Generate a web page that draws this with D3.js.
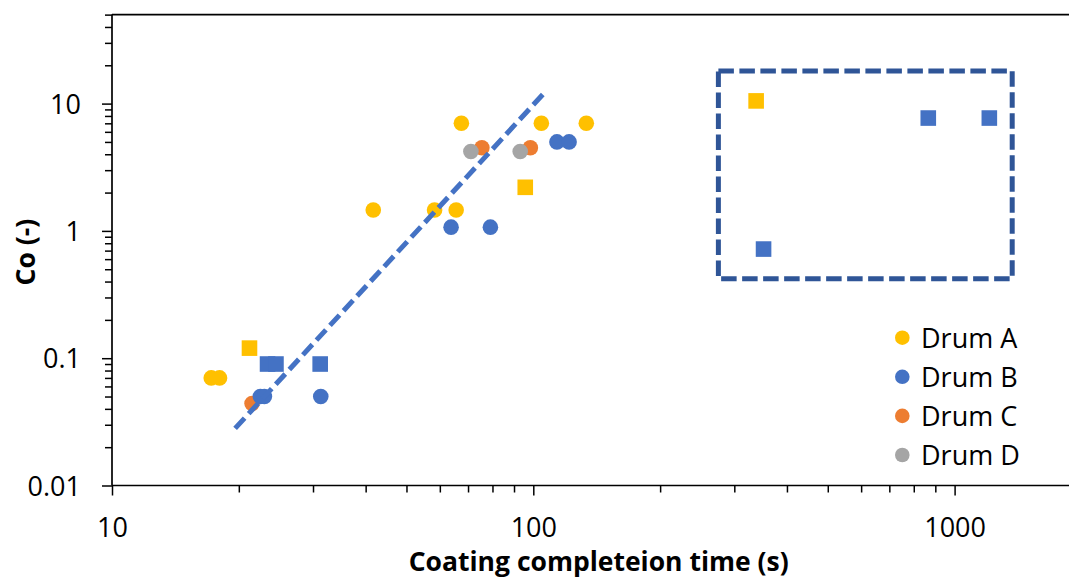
<!DOCTYPE html>
<html>
<head>
<meta charset="utf-8">
<script src="https://cdn.jsdelivr.net/npm/d3@7"></script>
<style>
  html, body { margin: 0; padding: 0; background: #fff; }
  svg { display: block; font-family: "Open Sans", "Noto Sans", sans-serif; }
</style>
</head>
<body>
<svg id="chart" width="1069" height="580"></svg>
<script>
// Coating completion time (s) vs Co (-), four drums, log-log axes

// Drum A
const drumACircleT  = [17.2, 18.0, 41.7, 58.3, 65.6, 67.5, 104.5, 133.6];
const drumACircleCo = [0.07, 0.07, 1.46, 1.46, 1.46, 7.0, 7.0, 7.0];
const drumASquareT  = [21.2, 95.7, 338];
const drumASquareCo = [0.12, 2.2, 10.5];

// Drum B
const drumBCircleT  = [22.5, 23.0, 31.3, 63.8, 79.1, 113.8, 121.6];
const drumBCircleCo = [0.05, 0.05, 0.05, 1.07, 1.07, 5.0, 5.0];
const drumBSquareT  = [23.4, 24.5, 31.2, 352, 866, 1209];
const drumBSquareCo = [0.09, 0.09, 0.09, 0.72, 7.7, 7.7];

// Drum C
const drumCCircleT  = [21.5, 75.5, 98.4];
const drumCCircleCo = [0.044, 4.5, 4.5];

// Drum D
const drumDCircleT  = [71.1, 93.1];
const drumDCircleCo = [4.2, 4.2];

// Power-law trend line end points
const trendT  = [19.6, 105.6];
const trendCo = [0.0281, 11.9];

// Highlighted region (data units): [tMin, tMax], [CoMin, CoMax]
const boxT  = [275, 1370];
const boxCo = [0.421, 18.0];

// Axis ticks
const xMajorTicks = [10, 100, 1000];
const yMajorTicks = [0.01, 0.1, 1, 10];
const xMinorTicks = [20, 30, 40, 50, 60, 70, 80, 90, 200, 300, 400, 500, 600, 700, 800, 900];
const yMinorTicks = [0.02, 0.03, 0.04, 0.05, 0.06, 0.07, 0.08, 0.09,
                     0.2, 0.3, 0.4, 0.5, 0.6, 0.7, 0.8, 0.9,
                     2, 3, 4, 5, 6, 7, 8, 9, 20, 30, 40, 50];

const legendNames = ["Drum A", "Drum B", "Drum C", "Drum D"];
const colors = { A: "#FFC000", B: "#4472C4", C: "#ED7D31", D: "#A5A5A5" };

const svg = d3.select("#chart");

const x = d3.scaleLog().domain([10, 2000]).range([112, 112 + 421.3 * Math.log10(200)]);
const y = d3.scaleLog().domain([0.01, 50]).range([485.5, 485.5 - 127.3 * Math.log10(5000)]);

const fontSize = 27;

// Top frame line
svg.append("line")
  .attr("x1", x(10)).attr("x2", x(2000))
  .attr("y1", y(50)).attr("y2", y(50))
  .attr("stroke", "#000").attr("stroke-width", 1.7);

// X axis: minor then major ticks
const gx = svg.append("g").attr("transform", `translate(0,${y(0.01)})`);
gx.append("g")
  .call(d3.axisBottom(x).tickValues(xMinorTicks).tickSize(7).tickFormat(""))
  .call(g => g.select(".domain").remove());
gx.append("g")
  .call(d3.axisBottom(x).tickValues(xMajorTicks).tickSize(10).tickPadding(22.6).tickFormat(d3.format("d")))
  .call(g => g.select(".domain").attr("d", `M${x(10)},0H${x(2000)}`));
gx.selectAll("line").attr("stroke", "#000").attr("stroke-width", 1.5);
gx.selectAll(".domain").attr("stroke", "#000").attr("stroke-width", 1.7);
gx.selectAll("text").attr("font-size", fontSize).attr("fill", "#000").attr("font-family", "Open Sans");

// Y axis
const gy = svg.append("g").attr("transform", `translate(${x(10)},0)`);
gy.append("g")
  .call(d3.axisLeft(y).tickValues(yMinorTicks).tickSize(7).tickFormat(""))
  .call(g => g.select(".domain").remove());
gy.append("g")
  .call(d3.axisLeft(y).tickValues(yMajorTicks).tickSize(10).tickPadding(21)
        .tickFormat(d => d >= 1 ? d3.format("d")(d) : String(d)))
  .call(g => g.select(".domain").attr("d", `M0,${y(0.01)}V${y(50)}`));
gy.selectAll("line").attr("stroke", "#000").attr("stroke-width", 1.5);
gy.selectAll(".domain").attr("stroke", "#000").attr("stroke-width", 1.7);
gy.selectAll("text").attr("font-size", fontSize).attr("fill", "#000")
  .attr("dy", "0.36em").attr("font-family", "Open Sans");

// Axis titles
svg.append("text")
  .attr("x", (x(10) + x(2000)) / 2 + 2).attr("y", 571)
  .attr("text-anchor", "middle").attr("font-weight", "bold")
  .attr("font-size", 26.5).attr("fill", "#000")
  .text("Coating completeion time (s)");

svg.append("text")
  .attr("transform", `translate(35,${(y(0.01) + y(50)) / 2 + 2}) rotate(-90)`)
  .attr("text-anchor", "middle").attr("font-weight", "bold")
  .attr("font-size", 26.5).attr("fill", "#000")
  .text("Co (-)");

// Markers
const zip = (a, b) => a.map((v, i) => [v, b[i]]);
const r = 7.8, side = 15.6;

function circles(ts, cos, color) {
  svg.append("g").selectAll("circle").data(zip(ts, cos)).join("circle")
    .attr("cx", d => x(d[0])).attr("cy", d => y(d[1])).attr("r", r)
    .attr("fill", color);
}
function squares(ts, cos, color) {
  svg.append("g").selectAll("rect").data(zip(ts, cos)).join("rect")
    .attr("x", d => x(d[0]) - side / 2).attr("y", d => y(d[1]) - side / 2)
    .attr("width", side).attr("height", side)
    .attr("fill", color);
}

circles(drumACircleT, drumACircleCo, colors.A);
circles(drumCCircleT, drumCCircleCo, colors.C);
circles(drumDCircleT, drumDCircleCo, colors.D);
circles(drumBCircleT, drumBCircleCo, colors.B);
squares(drumASquareT, drumASquareCo, colors.A);
squares(drumBSquareT, drumBSquareCo, colors.B);

// Trend line
svg.append("path")
  .datum(zip(trendT, trendCo))
  .attr("d", d3.line().x(d => x(d[0])).y(d => y(d[1])))
  .attr("fill", "none").attr("stroke", "#4472C4")
  .attr("stroke-width", 5).attr("stroke-dasharray", "14,6");

// Dashed highlight box
svg.append("rect")
  .attr("x", x(boxT[0])).attr("y", y(boxCo[1]))
  .attr("width", x(boxT[1]) - x(boxT[0]))
  .attr("height", y(boxCo[0]) - y(boxCo[1]))
  .attr("fill", "none").attr("stroke", "#2F5597")
  .attr("stroke-width", 5).attr("stroke-dasharray", "15.5,5.5");

// Legend
const legend = svg.append("g");
const legendColors = [colors.A, colors.B, colors.C, colors.D];
legendNames.forEach((name, i) => {
  const cy = 337.7 + i * 39.1;
  legend.append("circle").attr("cx", 902.3).attr("cy", cy).attr("r", 7.3).attr("fill", legendColors[i]);
  legend.append("text").attr("x", 921).attr("y", cy + 9.8)
    .attr("font-size", fontSize).attr("fill", "#000").text(name);
});
</script>
</body>
</html>
